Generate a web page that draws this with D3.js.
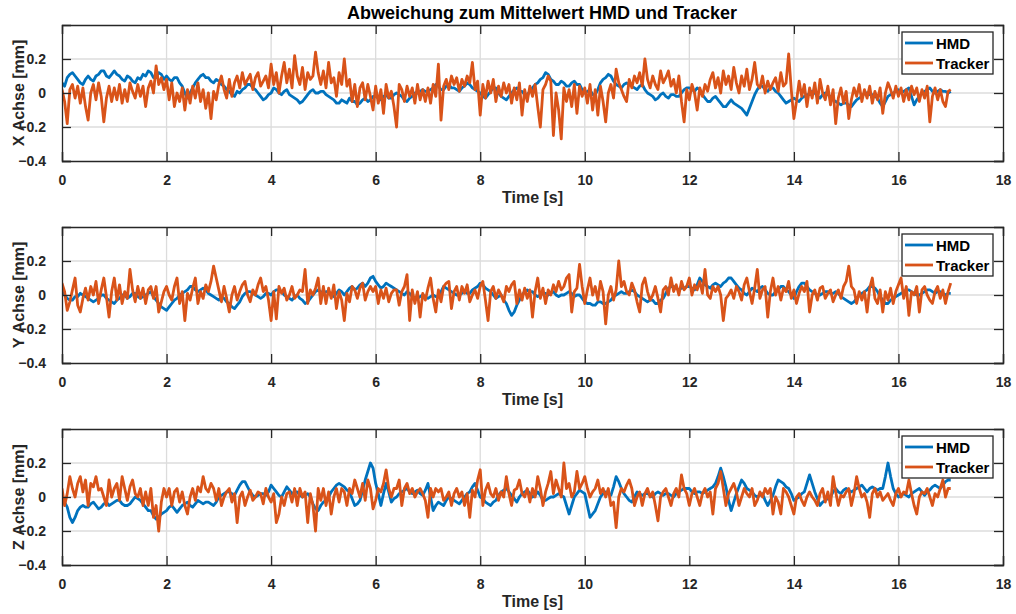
<!DOCTYPE html>
<html><head><meta charset="utf-8">
<script src="https://cdn.jsdelivr.net/npm/d3@7"></script>
<style>
body{margin:0;background:#fff;}
svg{display:block;font-family:"Liberation Sans",Arial,sans-serif;}
</style></head><body>
<svg id="chart" width="1016" height="614"></svg>
<script>
// ---------- data (mm), sampled every 0.05 s ----------
const chartTitle = "Abweichung zum Mittelwert HMD und Tracker";
const seriesNames = ["HMD", "Tracker"];
const axisLabels = ["X Achse [mm]", "Y Achse [mm]", "Z Achse [mm]"];
const xAxisTitle = "Time [s]";
const xTicks = [0, 2, 4, 6, 8, 10, 12, 14, 16, 18];
const yTicks = [-0.4, -0.2, 0, 0.2];
const sampleStep = 0.05;

const xHmd = [
.06,.04,.09,.11,.12,.10,.08,.06,.05,.08,.10,.08,.07,.10,.11,.13,.13,.10,.09,.11,
.13,.11,.10,.08,.07,.10,.09,.07,.06,.09,.08,.11,.10,.13,.12,.09,.09,.12,.11,.08,
.10,.08,.07,.09,.09,.06,.04,.00,-.03,.00,.03,.06,.08,.10,.11,.09,.09,.07,.06,.08,
.07,.05,.04,.02,.01,-.01,-.02,.01,.00,.02,.03,.05,.05,.03,.02,.00,-.02,-.04,-.03,-.01,
.00,.03,.02,.00,-.01,.01,.02,-.01,-.02,-.03,-.04,-.06,-.05,-.03,-.01,.01,.02,.00,.00,.01,
.01,-.01,-.02,-.03,-.04,-.06,-.06,-.04,-.05,-.06,-.03,-.05,-.05,-.07,-.06,-.04,-.03,-.05,-.04,-.02,
-.02,-.03,-.04,-.02,-.01,-.03,-.03,-.01,.00,-.01,-.02,-.04,-.05,-.03,-.02,.00,.00,.01,.02,.01,
.01,.02,.03,.05,.04,.02,.02,.04,.05,.03,.03,.02,.01,.03,.04,.06,.05,.03,.02,.01,
.00,-.02,-.03,-.01,.01,.03,.03,.00,-.02,-.03,-.04,-.02,.00,.02,.03,.01,.01,-.01,-.01,.01,
.03,.05,.06,.08,.09,.12,.11,.08,.07,.05,.05,.07,.06,.04,.04,.06,.07,.05,.05,.02,
.00,.01,.02,-.01,-.01,.02,.06,.08,.09,.11,.10,.07,.05,.04,.03,.05,.06,.05,.04,.03,
.02,.04,.05,.02,.00,-.01,-.02,-.04,-.03,-.01,.00,-.02,-.03,-.01,-.01,-.02,-.02,.00,.02,.03,
.03,.02,.01,.03,.02,-.01,-.03,-.05,-.05,-.03,-.02,-.04,-.06,-.08,-.08,-.06,-.04,-.06,-.07,-.08,
-.09,-.11,-.13,-.09,-.05,-.01,.02,.04,.04,.02,.01,.03,.03,.01,.00,-.02,-.04,-.06,-.05,-.04,
-.03,-.04,-.05,-.03,-.02,-.01,-.01,.01,.00,-.02,-.03,-.01,.00,-.01,-.02,-.04,-.05,-.06,-.07,-.06,
-.06,-.07,-.08,-.06,-.04,-.03,-.02,.00,.00,-.01,-.01,-.02,-.03,-.06,-.08,-.05,-.02,-.01,.00,.01,
.02,.00,.01,.02,.03,-.02,-.07,-.04,-.02,.00,.01,.02,.03,.01,.00,.01,.02,.01,.01,.00,
.01];
const xTracker = [
.02,-.05,-.18,.02,.05,-.03,.04,-.06,.03,-.08,-.16,.00,.05,-.04,.06,-.02,-.17,-.03,.04,-.05,
.03,-.04,.05,-.06,.02,-.05,.06,.01,-.03,.05,-.02,.04,-.08,.03,.07,.00,.16,.05,.09,.02,
.08,-.04,.06,-.08,.00,-.05,.03,-.10,.02,-.06,.04,-.03,.06,-.05,.02,-.09,.00,-.15,.01,-.04,
.05,.10,.02,-.03,.08,-.02,.06,.10,.03,.12,.05,.08,.11,.02,.09,.12,.04,.07,.10,.03,
.17,.05,.12,.00,.10,.18,.06,.14,.03,.22,.10,.05,.15,.02,.12,.08,.10,.24,.12,.05,
.13,.03,.18,.06,.09,-.02,.12,.05,.20,.04,.08,-.05,.05,-.08,.03,.06,-.04,.05,-.02,-.10,
.04,-.06,.02,-.12,.05,-.03,.01,-.08,-.20,.05,.02,-.05,.04,-.02,.03,-.06,.05,-.04,.02,-.05,
.03,-.06,.05,-.02,.17,-.16,.04,.08,.02,.10,.05,.09,.01,.08,.04,.10,.06,.18,.02,.07,
-.13,.05,-.03,.07,.00,.08,-.05,.04,-.02,.06,.00,.05,-.06,.03,-.04,.06,-.13,.02,-.05,.04,
-.02,.05,-.08,-.20,.02,.05,.10,.07,-.25,.00,-.10,-.27,.03,-.05,.02,-.08,.05,-.12,.04,-.02,
.03,-.06,.05,-.10,.02,-.13,.04,-.05,-.17,.00,.05,-.03,.14,.06,.02,-.02,-.05,.08,.03,.10,
.06,.12,.04,.20,.08,.03,.10,.05,.02,.13,.06,.09,.13,.04,.08,.00,.10,-.05,-.17,.02,
-.04,.05,.00,-.10,.03,-.02,.05,.01,.08,.12,.03,.09,.00,.13,.05,.10,.02,.15,.06,.00,
.10,.04,.14,.02,.08,.18,.05,.03,.10,.00,.07,.02,.06,.09,.01,.12,.04,.06,.23,.02,
-.15,-.05,.07,-.02,.05,-.08,.03,-.03,.06,-.06,.08,.00,-.04,.04,-.07,.02,-.18,-.03,.03,-.06,
.01,-.15,-.04,.03,-.02,.05,-.05,.02,-.03,.04,-.06,.01,-.04,.03,-.12,.00,.06,.02,-.03,.04,
-.02,.03,-.05,.02,-.04,.04,-.01,.03,-.05,.02,-.03,.04,-.17,-.02,.03,-.04,.02,-.05,-.08,.01,
.02];

const yHmd = [
.02,.00,-.02,-.03,-.03,-.01,-.01,.01,.00,-.01,-.02,-.03,-.04,-.03,-.02,.00,.00,-.02,-.03,-.04,
-.05,-.03,-.02,.00,.00,-.02,-.01,.01,.01,-.01,-.02,-.01,.00,.01,.02,-.01,-.03,-.05,-.07,-.08,
-.09,-.07,-.05,-.03,-.02,.00,.01,.02,.03,.05,.05,.03,.02,.03,.04,.03,.01,.00,-.01,-.02,
-.03,-.01,-.02,-.04,-.05,-.07,-.08,-.06,-.04,-.01,.01,.02,.02,.01,.00,-.01,-.02,-.01,.01,.01,
.00,.02,.03,.03,.02,.00,-.01,-.02,-.03,-.01,.00,-.02,-.03,-.05,-.04,-.02,.00,.02,.03,.02,
.01,.02,.02,.00,-.01,.01,.03,.02,.00,.02,.04,.05,.03,.04,.06,.07,.05,.07,.10,.11,
.08,.06,.04,.05,.07,.06,.05,.04,.03,.02,.01,.00,.02,.01,-.01,-.02,-.02,-.01,.00,-.01,
-.02,-.01,.00,-.01,-.01,.02,.05,.04,.03,.02,.01,.00,.00,.01,.02,.01,.01,.03,.04,.05,
.07,.06,.04,.03,.02,.00,-.02,-.01,.00,-.03,-.05,-.09,-.12,-.10,-.06,-.03,.00,.02,.03,.02,
.02,.00,-.01,.00,.01,.01,.00,.01,.02,.00,-.01,.00,.00,.01,.02,.01,-.01,.00,.00,-.02,
-.04,-.05,-.05,-.06,-.06,-.04,-.04,-.05,-.05,-.04,-.03,-.01,.00,.01,.02,.01,.01,.02,.03,.02,
.00,-.01,-.02,-.03,-.04,-.03,-.03,-.05,-.05,-.03,-.02,.01,.04,.05,.05,.04,.03,.04,.04,.05,
.05,.04,.03,.06,.10,.08,.06,.05,.04,.06,.07,.06,.05,.07,.08,.10,.10,.08,.06,.04,
.03,.01,.00,.02,.04,.03,.02,.04,.05,.03,.01,.00,.00,.02,.03,.05,.05,.03,.02,.00,
-.02,.02,.05,.07,.07,.05,.03,.02,.01,.00,.00,.01,.02,.02,.01,.01,.02,.01,-.01,-.02,
-.03,-.04,-.05,-.04,-.02,.00,.01,.02,.03,.05,.05,.04,.02,-.01,-.03,-.05,-.05,-.03,-.02,-.01,
.00,.01,.02,.03,.03,.02,.01,.00,.00,.01,.02,.03,.03,.02,.01,.02,.02,.01,.00,.01,
.01];
const yTracker = [
.07,.02,-.09,-.04,.03,.10,-.06,-.10,-.02,.04,-.03,.05,.00,.08,-.05,.03,.10,-.01,-.13,.02,
.10,-.03,.06,-.05,.02,-.02,.15,.03,-.04,.05,-.02,.04,-.05,.03,.05,-.02,.05,-.10,-.04,.02,
.05,.00,-.03,.05,.10,-.05,.02,-.15,.01,-.03,.04,.10,-.05,.02,-.02,.06,.02,.08,.17,.10,
.03,-.04,.05,-.02,-.10,.00,.05,-.03,.02,.06,.08,.00,-.04,.03,.00,.06,.10,.02,.05,-.03,
-.15,.02,-.14,.05,.01,.04,-.03,.00,.05,-.02,.00,.03,.02,.15,-.05,.03,.00,.04,.10,-.05,
.05,-.05,.04,-.02,.06,-.08,.02,-.03,-.15,.01,-.04,.05,.03,-.02,.04,.07,-.03,.02,.05,.02,
.05,-.05,.03,-.02,.04,-.04,.01,.03,.03,-.06,.02,.05,.12,-.15,.03,-.05,.02,-.13,.01,-.03,
.04,.10,-.02,-.10,.03,-.04,.05,.07,.08,-.08,.02,.05,-.03,.05,.01,.06,-.04,.00,.03,-.02,
.05,.08,-.03,-.15,.02,.05,-.02,.03,.00,-.04,.05,.02,.06,.08,-.05,.03,-.03,.04,-.02,.03,
-.13,.02,.10,-.02,.04,-.05,.03,.00,.06,.02,.08,.03,.05,.10,.12,-.10,.02,.04,.18,.05,
-.05,.03,.10,.00,.05,-.03,.08,.02,-.17,.00,.05,-.03,.03,.20,.05,.08,.02,.00,.07,.03,
-.04,-.10,.06,.10,.02,-.03,.00,.05,-.02,-.10,.03,.05,.00,.10,.02,.06,.00,.08,.03,.05,
.10,.00,.06,.03,.08,.01,.15,.00,-.02,.05,.02,.05,.00,-.15,-.02,.00,.03,-.02,.05,.02,
-.03,.06,.10,.02,-.05,.04,.15,-.02,.03,.05,-.13,.02,.10,.00,.05,-.03,.04,.02,.08,-.02,
.03,-.05,.01,.05,.02,.08,-.10,.00,.03,-.03,.04,.05,-.02,.01,.03,-.04,.00,.03,-.02,.05,
.08,.17,.05,.03,-.05,.02,-.03,.02,-.10,.04,.10,-.02,-.05,.03,-.10,.02,-.03,.04,-.05,.02,
.06,.10,-.02,.05,-.12,.02,.00,.05,-.10,.03,.05,.00,-.03,-.05,.02,.05,-.02,.03,-.05,.02,
.07];

const zHmd = [
.00,-.03,-.06,-.12,-.15,-.12,-.08,-.06,-.05,-.06,-.06,-.04,-.03,-.05,-.07,-.06,-.04,-.03,-.05,-.04,
-.03,-.02,-.02,-.04,-.05,-.05,-.04,-.02,.00,-.01,-.02,-.04,-.06,-.08,-.08,-.11,-.13,-.12,-.10,-.09,
-.08,-.06,-.05,-.07,-.09,-.07,-.05,-.04,-.03,-.05,-.06,-.04,-.02,-.03,-.04,-.03,-.03,-.04,-.05,-.03,
.00,.01,.02,.03,.03,.02,.01,.04,.07,.09,.09,.06,.03,.01,.00,.01,.02,.02,.01,.03,
.07,.05,.03,.01,.00,.03,.06,.04,.02,.03,.03,.01,.00,.01,.02,.00,-.04,-.07,-.08,-.05,
-.03,-.02,.00,.03,.05,.07,.08,.07,.06,.04,.03,-.01,-.05,-.04,-.02,.04,.10,.15,.20,.17,
.08,.02,-.05,.02,.08,.03,-.03,-.01,.00,.02,.03,.04,.05,.03,.02,.03,.04,.02,.01,.04,
.08,.00,-.08,-.05,-.03,-.04,-.05,-.02,.00,-.01,-.02,-.03,-.04,-.02,.00,.02,.03,.06,.08,.04,
.00,-.01,-.03,-.04,-.05,-.03,-.02,.01,.03,.04,.05,.03,.01,-.01,-.03,.00,.02,.03,.04,.02,
.00,.01,.03,.01,-.02,-.02,-.01,.00,.00,.01,.02,.01,.00,-.05,-.10,-.05,.00,.02,.04,.03,
.02,-.05,-.12,-.10,-.08,-.04,.00,.02,.03,.02,.01,.06,.12,.09,.05,.02,.00,-.02,-.03,.00,
.03,.02,.01,.02,.02,.01,.00,.02,.03,.02,.01,.02,.02,.01,.00,.02,.03,.04,.05,.05,
.05,.03,.02,.03,.03,.02,.03,.04,.05,.06,.08,.12,.17,.12,.06,-.02,-.08,-.03,.02,.06,
.10,.08,.05,.04,.03,.01,.00,.01,.02,-.02,-.05,-.02,.01,.06,.10,.09,.08,.06,.05,.02,
-.02,-.01,.00,.02,.03,.08,.13,.08,.03,-.01,-.05,-.03,-.02,-.01,.00,.03,.05,.03,.02,.04,
.05,.04,.03,.04,.05,.06,.07,.05,.03,.05,.06,.05,.04,.05,.05,.12,.20,.12,.05,.02,
.00,.01,.02,.01,.00,.02,.03,.04,.05,.03,.01,.03,.04,.06,.07,.06,.05,.07,.09,.10,
.10];
const zTracker = [
.05,-.05,.02,.12,.05,.00,.08,.12,.03,.10,-.05,.08,.06,.12,.04,.05,.00,-.05,.10,.00,
.05,.08,-.02,.12,.05,-.02,.06,.10,.02,.00,.05,-.05,.03,-.05,.05,-.12,-.05,-.20,-.03,.05,
.00,.05,-.05,.03,.05,-.03,.03,-.05,-.10,.00,.05,-.02,.06,.03,.12,.05,.03,.08,.05,-.02,
.05,-.05,.00,.03,.05,-.03,.02,-.15,.00,.03,-.05,.00,.04,-.02,.00,.03,.02,-.04,.05,.00,
-.03,.02,-.15,-.10,.00,-.05,.02,.03,-.03,.05,-.05,.05,.00,.03,-.15,.02,-.05,-.20,.05,-.02,
.05,-.05,.03,-.10,.00,.05,-.03,.05,.03,-.05,.05,.02,.10,.05,.00,.08,-.02,.10,.05,-.07,
-.02,.05,.03,.08,.16,.05,.00,.05,.05,.10,-.05,.05,.08,.02,.05,.00,.03,.05,.02,-.02,
-.12,.05,.00,.05,.03,.05,-.02,.00,.03,-.05,.02,.05,.00,.03,-.05,.02,-.12,.04,.00,.10,
.16,-.05,.04,.08,.02,.00,.05,-.02,.03,.00,.12,.02,-.05,.04,.05,.10,.02,.00,.05,-.03,
.05,.00,.12,.05,-.05,.03,.08,.15,.02,.10,.05,.00,.20,.05,.08,.00,.03,.15,.05,.08,
.12,.05,.00,.03,.05,.10,.02,.05,.00,.05,-.05,-.03,-.18,.00,.05,.03,.07,.10,.05,-.05,
.00,.03,-.05,.02,.05,.00,.03,-.05,-.14,.00,.03,.05,.00,-.05,.02,.05,.00,.13,.05,.02,
-.05,.02,.05,.00,-.05,.02,.05,.00,.03,-.10,.05,.08,.15,.05,-.05,.02,.05,.08,.03,-.05,
.00,.05,.02,.00,.05,-.05,-.02,.03,.00,.05,.02,.05,-.10,.00,-.03,-.10,.05,.03,.00,-.05,
-.10,.00,.02,-.02,-.05,.00,.03,.00,-.02,-.05,.02,.05,-.03,.03,-.05,.12,.03,-.05,.01,.00,
.03,.05,-.05,.02,.12,.05,.00,.02,-.03,-.12,.02,.05,.00,.03,-.02,.00,.02,-.02,-.05,.02,
.05,.00,.03,.02,.10,.02,-.05,-.10,.00,.03,.02,.05,.00,-.05,.02,.00,.05,.10,.00,.05,
.05];

// ---------- layout ----------
const colors = ["#0072BD", "#D95319"];
const panels = [
  {top: 25,  bottom: 161, label: axisLabels[0], hmd: xHmd, tracker: xTracker},
  {top: 227, bottom: 363, label: axisLabels[1], hmd: yHmd, tracker: yTracker},
  {top: 429, bottom: 565, label: axisLabels[2], hmd: zHmd, tracker: zTracker}
];
const left = 62, right = 1003;
const axisColor = "#262626", gridColor = "#dcdcdc";
const svg = d3.select("#chart");

svg.append("text").attr("x", 542).attr("y", 19).attr("text-anchor", "middle")
  .attr("font-size", 18).attr("font-weight", "bold").attr("fill", "#000").text(chartTitle);

const x = d3.scaleLinear().domain([0, 18]).range([left, right]);

panels.forEach((p, pi) => {
  const y = d3.scaleLinear().domain([-0.4, 0.4]).range([p.bottom, p.top]);
  const g = svg.append("g");
  const clipId = "clip" + pi;
  svg.append("clipPath").attr("id", clipId).append("rect")
    .attr("x", left).attr("y", p.top).attr("width", right - left).attr("height", p.bottom - p.top);

  // grid
  g.append("g").selectAll("line").data(xTicks.filter(t => t > 0 && t < 18)).join("line")
    .attr("x1", d => x(d)).attr("x2", d => x(d)).attr("y1", p.top).attr("y2", p.bottom)
    .attr("stroke", gridColor).attr("stroke-width", 1.3);
  g.append("g").selectAll("line").data(yTicks.filter(t => t > -0.4)).join("line")
    .attr("x1", left).attr("x2", right).attr("y1", d => y(d)).attr("y2", d => y(d))
    .attr("stroke", gridColor).attr("stroke-width", 1.3);

  // data lines
  const series = [
    p.hmd.map((v, i) => [i * sampleStep, v]),
    p.tracker.map((v, i) => [i * sampleStep, v])
  ];
  const line = d3.line().x(d => x(d[0])).y(d => y(d[1]));
  const lg = g.append("g").attr("clip-path", `url(#${clipId})`);
  series.forEach((s, si) => {
    lg.append("path").datum(s).attr("d", line).attr("fill", "none")
      .attr("stroke", colors[si]).attr("stroke-width", 2.8).attr("stroke-linejoin", "round");
  });

  // axes (ticks inside)
  const tl = 9;
  const bottomAxis = d3.axisBottom(x).tickValues(xTicks).tickSize(-tl).tickPadding(tl + 5).tickFormat(d3.format("d"));
  const topAxis = d3.axisTop(x).tickValues(xTicks).tickSize(-tl).tickFormat("");
  const leftAxis = d3.axisLeft(y).tickValues(yTicks).tickSize(-tl).tickPadding(tl + 7).tickFormat(d => d === 0 ? "0" : d3.format(".1f")(d));
  const rightAxis = d3.axisRight(y).tickValues(yTicks).tickSize(-tl).tickFormat("");
  const styleAxis = a => {
    a.select(".domain").attr("stroke", axisColor).attr("stroke-width", 1.3);
    a.selectAll(".tick line").attr("stroke", axisColor).attr("stroke-width", 1.3);
    a.selectAll(".tick text").attr("fill", "#262626").attr("font-size", 14).attr("font-weight", "bold")
      .attr("font-family", "'Liberation Sans', Arial, sans-serif");
  };
  g.append("g").attr("transform", `translate(0,${p.bottom})`).call(bottomAxis).call(styleAxis);
  g.append("g").attr("transform", `translate(0,${p.top})`).call(topAxis).call(styleAxis);
  g.append("g").attr("transform", `translate(${left},0)`).call(leftAxis).call(styleAxis);
  g.append("g").attr("transform", `translate(${right},0)`).call(rightAxis).call(styleAxis);

  // axis labels
  g.append("text").attr("x", x(9)).attr("y", p.bottom + 42).attr("text-anchor", "middle")
    .attr("font-size", 16).attr("font-weight", "bold").attr("fill", "#262626").text(xAxisTitle);
  g.append("text").attr("transform", `translate(24,${(p.top + p.bottom) / 2}) rotate(-90)`)
    .attr("text-anchor", "middle").attr("font-size", 16).attr("font-weight", "bold")
    .attr("text-rendering", "geometricPrecision")
    .attr("fill", "#262626").text(p.label.replace(/ /g, "\u00a0"));

  // legend
  const lgx = 902, lgy = p.top + 7, lw = 91, lh = 42;
  const leg = g.append("g");
  leg.append("rect").attr("x", lgx).attr("y", lgy).attr("width", lw).attr("height", lh)
    .attr("fill", "#fff").attr("stroke", axisColor).attr("stroke-width", 1.3);
  seriesNames.forEach((n, i) => {
    const yy = lgy + 11 + i * 20;
    leg.append("line").attr("x1", lgx + 3).attr("x2", lgx + 31).attr("y1", yy).attr("y2", yy)
      .attr("stroke", colors[i]).attr("stroke-width", 2.8);
    leg.append("text").attr("x", lgx + 34).attr("y", yy + 5.5).attr("font-size", 15)
      .attr("font-weight", "bold").attr("fill", "#000").text(n);
  });
});
</script>
</body></html>
